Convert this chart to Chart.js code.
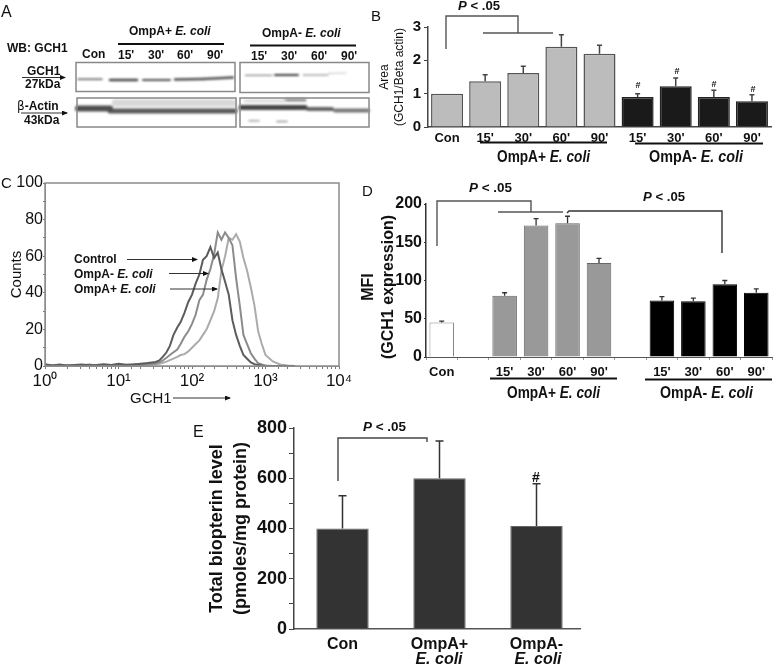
<!DOCTYPE html>
<html><head><meta charset="utf-8">
<style>
html,body{margin:0;padding:0;background:#fff;width:776px;height:666px;overflow:hidden}
canvas{position:absolute;display:block}
svg{position:absolute;left:0;top:0;z-index:5}
svg text{font-family:"Liberation Sans",Arial,sans-serif;fill:#111}
.b{font-weight:700}.i{font-style:italic}
.p{font-weight:700;font-size:12.5px}
.big{font-weight:700;font-size:17px}
.a{font-weight:700;font-size:12px}
.br{fill:none;stroke:#555;stroke-width:1.4}
.ul{stroke:#111;stroke-width:2.2}
.fr{fill:none;stroke:#888;stroke-width:1.5}
.ar{stroke:#333;stroke-width:1;marker-end:url(#ah)}
</style>
<script src="https://cdn.jsdelivr.net/npm/chart.js@4"></script>
</head><body>
<canvas id="blot"></canvas>
<canvas id="chartB"></canvas>
<canvas id="chartC"></canvas>
<canvas id="chartD"></canvas>
<canvas id="chartE"></canvas>
<svg width="776" height="666" viewBox="0 0 776 666">
<defs><marker id="ah" markerWidth="6" markerHeight="5" refX="5" refY="2.5" orient="auto" markerUnits="userSpaceOnUse"><path d="M0 0L6 2.5L0 5z" fill="#111"/></marker></defs>

<!-- panel letters -->
<text x="1" y="17" font-size="16">A</text>
<text x="371" y="21" font-size="15">B</text>
<text x="1" y="188" font-size="15">C</text>
<text x="362" y="196" font-size="15">D</text>
<text x="193" y="437" font-size="16">E</text>

<!-- A -->
<text class="a" x="7" y="52">WB: GCH1</text>
<text class="a" x="129" y="35">OmpA+ <tspan class="i">E. coli</tspan></text>
<text class="a" x="262" y="37">OmpA- <tspan class="i">E. coli</tspan></text>
<line class="ul" x1="118" y1="44" x2="224" y2="44"/>
<line class="ul" x1="250" y1="45.5" x2="356" y2="45.5"/>
<text class="a" x="82" y="58">Con</text>
<text class="a" x="118" y="59">15'</text><text class="a" x="148" y="59">30'</text><text class="a" x="177" y="59">60'</text><text class="a" x="207" y="59">90'</text>
<text class="a" x="251" y="60">15'</text><text class="a" x="281" y="60">30'</text><text class="a" x="311" y="60">60'</text><text class="a" x="341" y="60">90'</text>
<rect class="fr" x="76" y="62.5" width="159" height="29"/>
<rect class="fr" x="240" y="62.5" width="129" height="30"/>
<rect class="fr" x="77" y="98" width="159" height="29"/>
<rect class="fr" x="240" y="98" width="129" height="29"/>
<text class="a" x="27" y="75">GCH1</text>
<line class="ar" x1="22" y1="77.5" x2="65" y2="77.5"/>
<text class="a" x="25" y="88">27kDa</text>
<text class="a" x="17" y="110"><tspan font-family="DejaVu Sans" font-weight="400">β</tspan>-Actin</text>
<line class="ar" x1="21" y1="113" x2="67" y2="113"/>
<text class="a" x="24" y="124">43kDa</text>

<!-- B -->
<text class="p" x="458" y="10" textLength="42" lengthAdjust="spacingAndGlyphs"><tspan class="i">P</tspan> &lt; .05</text>
<polyline class="br" points="446,49 446,16 518,16 518,33"/>
<line class="br" x1="483" y1="33" x2="553" y2="33"/>
<text class="b" font-size="9" text-anchor="middle" x="638" y="88">#</text>
<text class="b" font-size="9" text-anchor="middle" x="677" y="74">#</text>
<text class="b" font-size="9" text-anchor="middle" x="714" y="87">#</text>
<text class="b" font-size="9" text-anchor="middle" x="753" y="92">#</text>
<line class="ul" x1="480" y1="142.5" x2="607" y2="142.5"/>
<line class="ul" x1="635" y1="143.5" x2="763" y2="143.5"/>
<text class="big" x="497" y="162" textLength="93" lengthAdjust="spacingAndGlyphs">OmpA+ <tspan class="i">E. coli</tspan></text>
<text class="big" x="649" y="162" textLength="94" lengthAdjust="spacingAndGlyphs">OmpA- <tspan class="i">E. coli</tspan></text>

<!-- C -->
<text class="a" x="74" y="263">Control</text>
<text class="a" x="74" y="278">OmpA- <tspan class="i">E. coli</tspan></text>
<text class="a" x="74" y="293">OmpA+ <tspan class="i">E. coli</tspan></text>
<line class="ar" x1="127" y1="259.5" x2="197" y2="259.5"/>
<line class="ar" x1="169" y1="273.5" x2="208" y2="273.5"/>
<line class="ar" x1="170" y1="289" x2="217" y2="289"/>
<text x="130" y="403" font-size="15">GCH1</text>
<line class="ar" x1="173" y1="398" x2="230" y2="398"/>

<!-- D -->
<text class="b" font-size="16" text-anchor="middle" dominant-baseline="central" transform="translate(367,287) rotate(-90)">MFI</text>
<text class="b" font-size="16" text-anchor="middle" dominant-baseline="central" transform="translate(387,287) rotate(-90)">(GCH1 expression)</text>
<text class="p" x="469" y="192" textLength="43" lengthAdjust="spacingAndGlyphs"><tspan class="i">P</tspan> &lt; .05</text>
<text class="p" x="643" y="201" textLength="42" lengthAdjust="spacingAndGlyphs"><tspan class="i">P</tspan> &lt; .05</text>
<polyline class="br" points="437,246 437,201 531,201 531,212"/>
<line class="br" x1="498" y1="212" x2="563" y2="212"/>
<polyline class="br" style="stroke:#333" points="567,213 569,211 722,211 722,253"/>
<line class="ul" x1="490" y1="378.5" x2="617" y2="378.5"/>
<line class="ul" x1="645" y1="379.5" x2="772" y2="379.5"/>
<text class="big" x="507" y="398" textLength="93" lengthAdjust="spacingAndGlyphs">OmpA+ <tspan class="i">E. coli</tspan></text>
<text class="big" x="660" y="398" textLength="93" lengthAdjust="spacingAndGlyphs">OmpA- <tspan class="i">E. coli</tspan></text>

<!-- E -->
<text class="p" x="363" y="431" textLength="43" lengthAdjust="spacingAndGlyphs"><tspan class="i">P</tspan> &lt; .05</text>
<polyline class="br" style="stroke:#444" points="338,481 338,438 427,438 427,442"/>
<text class="b" font-size="14" text-anchor="middle" x="536" y="482">#</text>
<text class="b i" font-size="16" text-anchor="middle" x="439" y="664">E. coli</text>
<text class="b i" font-size="16" text-anchor="middle" x="538" y="664">E. coli</text>
<rect x="581" y="626" width="8" height="6" fill="#fff"/>
</svg>

<script>
// ---------- Panel A: densitometry bands read from the blot ----------
const bandStart = [78,110,143,175,203, 245,275,303,328, 115,78,110, 245,285,241,308,335, 249,277];
const bandEnd   = [102,137,170,203,233, 272,298,328,346, 233,110,235, 285,305,305,332,368, 259,287];
const bandPosA  = [79.3,80,80,79.5,79, 75.3,75,75,73.5, 103,108.5,111, 101,100,107.5,109,110.5, 120.7,121.5];
const bandPosB  = [79.3,80,80,79,77.5, 75.3,75,75,73, 103,108.5,111, 101,100,107.5,109,110.5, 120.7,121.5];
const bandThick = [1.5,2.5,2,2.5,2.5, 1,2,1,0.8, 7,6,5, 3,3,5,4,4, 1.5,1.5];
const bandDensity = [.75,.85,.8,.8,.8, .7,.9,.6,.3, .1,.8,.75, .08,.5,.85,.7,.6, .4,.45];

// ---------- Panel B ----------
const catsB = ['Con',"15'","30'","60'","90'","15'","30'","60'","90'"];
const valuesB = [1.0,1.37,1.62,2.41,2.2,0.9,1.22,0.9,0.77];
const errTopB = [1.0,1.57,1.82,2.77,2.45,1.0,1.47,1.1,0.97];
const ticksB = [0,1,2,3];

// ---------- Panel C: flow cytometry histograms ----------
const channels = [1,1.26,1.58,2,2.5,3.16,4,5,6.3,8,10,12.6,16,20,25,32,36,40,45,50,56,63,70,79,89,100,112,126,141,158,178,200,224,251,282,316,355,398,447,501,562,631,708,794,891,1000,1259,1585,2000,2500];
const countsControl = [1,0.3,0.8,0.2,0.5,0.8,0.4,0.6,1,0.6,1.2,0.7,0.8,1.2,1.6,2.2,3,5,7.5,11,17,21,24,29,35,39,45,50,58,60,65,59,62,53,46,39,25,17,11,6,4,2,1,0.6,0.2,0,0,0,0,0];
const countsOmpAminus = [0.6,0.2,0.3,0.5,0.2,0.4,0.8,0.3,0.6,0.4,0.7,0.5,0.9,0.6,1,1.4,2,3,4.5,6,7.5,9,12,16,19,23,28,36,39,47,53,61,73,69,73,70,66,48,33,17,12,7,4,1.5,0.8,0.3,0,0,0,0];
const countsOmpAplus = [0.3,0.5,0.2,0.3,0.6,0.2,0.3,0.5,0.3,0.5,0.4,0.6,0.4,0.5,0.7,1,1.2,1.8,2.4,3.2,4,5,6,6.5,8,10,12,14,17,20,25,30,37,52,60,70,69,72,68,59,52,43,33,19,12,6,2.5,0.8,0.3,0];
const decadeLabels = {1:'10\u2070',10:'10\u00B9',100:'10\u00B2',1000:'10\u00B3',10000:'10\u2074'};

// ---------- Panel D ----------
const catsD = ['Con','',"15'","30'","60'","90'",'',"15'","30'","60'","90'"];
const valuesD = [45,null,80,172,175,123,null,74,73,95,84];
const errTopD = [47,null,84,181,184,129,null,79,77,100,89];

// ---------- Panel E ----------
const catsE = ['Con','OmpA+','OmpA-'];
const valuesE = [400,600,410];
const errTopE = [530,748,578];

// ---------- helpers ----------
const FONT = '"Liberation Sans", Arial, sans-serif';
Chart.defaults.font.family = FONT;
Chart.defaults.color = '#111';
Chart.defaults.animation = false;
Chart.defaults.responsive = false;
Chart.defaults.maintainAspectRatio = false;
Chart.defaults.devicePixelRatio = 1;

function place(id, r, p, yw, xh){
  const c = document.getElementById(id);
  c.width = r.w; c.height = r.h;
  c.style.left = r.x+'px'; c.style.top = r.y+'px';
  c.style.width = r.w+'px'; c.style.height = r.h+'px';
  return {
    canvas:c,
    padding:{left:p.l-r.x-yw, top:p.t-r.y, right:r.x+r.w-p.r, bottom:r.y+r.h-p.b-xh},
    fitY:s=>{s.width=yw}, fitX:s=>{s.height=xh}
  };
}
function errorBars(tops, color, lw, cap){
  return {id:'err', afterDatasetsDraw(chart){
    const y = chart.scales.y, ctx = chart.ctx;
    const meta = chart.getDatasetMeta(0);
    ctx.save(); ctx.strokeStyle=color; ctx.lineWidth=lw;
    tops.forEach((t,i)=>{
      const v = chart.data.datasets[0].data[i];
      if(t==null||v==null||t<=v) return;
      const px = meta.data[i].x, py0=y.getPixelForValue(v), py1=y.getPixelForValue(t);
      ctx.beginPath(); ctx.moveTo(px,py0); ctx.lineTo(px,py1);
      ctx.moveTo(px-cap,py1); ctx.lineTo(px+cap,py1); ctx.stroke();
    });
    ctx.restore();
  }};
}

// ---------- Panel A chart ----------
(function(){
  const L = place('blot',{x:70,y:60,w:300,h:70},{l:70,t:60,r:370,b:130},0,0);
  L.canvas.style.filter='blur(0.9px)';
  const ds = bandStart.map((s,i)=>{
    const g = Math.round(235-bandDensity[i]*195);
    return {data:[{x:s,y:bandPosA[i]},{x:bandEnd[i],y:bandPosB[i]}],showLine:true,pointRadius:0,
      borderWidth:bandThick[i],borderColor:`rgb(${g},${g},${g})`,borderCapStyle:'round'};
  });
  new Chart(L.canvas,{type:'scatter',data:{datasets:ds},options:{
    plugins:{legend:{display:false},tooltip:{enabled:false}},
    layout:{padding:0},
    scales:{x:{type:'linear',display:false,min:70,max:370},y:{type:'linear',display:false,min:60,max:130,reverse:true}}
  }});
})();

// ---------- Panel B chart ----------
(function(){
  const L = place('chartB',{x:360,y:0,w:416,h:170},{l:428,t:27,r:771,b:127},51,20);
  const fill = catsB.map((c,i)=>i<5?'#bcbcbc':'#1a1a1a');
  new Chart(L.canvas,{type:'bar',data:{labels:catsB,datasets:[{data:valuesB,backgroundColor:fill,
      borderColor:catsB.map((c,i)=>i<5?'#555':'#222'),borderWidth:1.5,barPercentage:.84,categoryPercentage:1}]},
    plugins:[errorBars(errTopB,'#444',1.5,2.5)],
    options:{layout:{padding:L.padding},plugins:{legend:{display:false},tooltip:{enabled:false}},
    scales:{
      x:{afterFit:L.fitX,grid:{display:false,drawTicks:false},border:{color:'#444',width:1.5},
         ticks:{autoSkip:false,maxRotation:0,padding:4,font:{size:13,weight:'bold'},color:'#111'}},
      y:{afterFit:L.fitY,min:0,max:3,afterBuildTicks:a=>{a.ticks=ticksB.map(v=>({value:v}))},
         grid:{drawOnChartArea:false,tickLength:4,color:'#444'},border:{color:'#444',width:1.5},
         ticks:{padding:3,font:{size:15,weight:'bold'},color:'#111'},
         title:{display:true,text:['Area','(GCH1/Beta actin)'],padding:0,color:'#111',font:{size:12,lineHeight:'15px'}}}
    }}});
})();

// ---------- Panel C chart ----------
(function(){
  const L = place('chartC',{x:0,y:165,w:365,h:245},{l:45,t:183,r:339,b:366},37,30);
  const mk=(d,c)=>({data:d.map((v,i)=>({x:channels[i],y:v})),showLine:true,pointRadius:0,borderColor:c,borderWidth:2,tension:0});
  const box={id:'box',afterDatasetsDraw(ch){const a=ch.chartArea,c=ch.ctx;c.save();c.strokeStyle='#8c8c8c';c.lineWidth=1.5;
     c.strokeRect(a.left,a.top,a.right-a.left,a.bottom-a.top);c.restore();}};
  new Chart(L.canvas,{type:'scatter',data:{datasets:[mk(countsControl,'#5c5c5c'),mk(countsOmpAminus,'#8b8b8b'),mk(countsOmpAplus,'#ababab')]},
    plugins:[box],
    options:{layout:{padding:L.padding},plugins:{legend:{display:false},tooltip:{enabled:false}},
    scales:{
      x:{type:'logarithmic',min:1,max:10000,afterFit:L.fitX,grid:{drawOnChartArea:false,tickLength:3,color:'#777'},border:{color:'#8c8c8c'},
         ticks:{autoSkip:false,maxRotation:0,padding:2,font:{size:17},color:'#111',callback:v=>decadeLabels[v]||''}},
      y:{type:'linear',min:0,max:100,afterFit:L.fitY,grid:{drawOnChartArea:false,tickLength:2,color:'#777'},border:{color:'#8c8c8c'},
         ticks:{stepSize:10,autoSkip:false,padding:0,font:{size:16},color:'#111',callback:v=>v%20===0?v:''},
         title:{display:true,text:'Counts',padding:0,color:'#111',font:{size:15,lineHeight:'18px'}}}
    }}});
})();

// ---------- Panel D chart ----------
(function(){
  const L = place('chartD',{x:362,y:190,w:414,h:195},{l:426,t:204,r:772,b:357},34,25);
  const fill = catsD.map((c,i)=>i===0?'#ffffff':i<6?'#999999':'#000000');
  const edge = catsD.map((c,i)=>i===0?'#888888':i<6?'#666666':'#000000');
  new Chart(L.canvas,{type:'bar',data:{labels:catsD,datasets:[{data:valuesD,backgroundColor:fill,borderColor:edge,borderWidth:1,barPercentage:.78,categoryPercentage:1}]},
    plugins:[errorBars(errTopD,'#333',1.3,2.5)],
    options:{layout:{padding:L.padding},plugins:{legend:{display:false},tooltip:{enabled:false}},
    scales:{
      x:{afterFit:L.fitX,grid:{drawOnChartArea:false,tickLength:3,color:'#999'},border:{color:'#555'},
         ticks:{autoSkip:false,maxRotation:0,padding:5,font:{size:13,weight:'bold'},color:'#111'}},
      y:{min:0,max:200,afterFit:L.fitY,grid:{drawOnChartArea:false,tickLength:2,color:'#333'},border:{color:'#333',width:1.5},
         ticks:{stepSize:50,padding:2,font:{size:16,weight:'bold'},color:'#111'}}
    }}});
})();

// ---------- Panel E chart ----------
(function(){
  const L = place('chartE',{x:195,y:415,w:400,h:251},{l:294,t:428,r:585,b:629},89,30);
  new Chart(L.canvas,{type:'bar',data:{labels:catsE,datasets:[{data:valuesE,backgroundColor:'#333333',borderColor:'#666666',borderWidth:1,barPercentage:.54,categoryPercentage:1}]},
    plugins:[errorBars(errTopE,'#333',1.5,4)],
    options:{layout:{padding:L.padding},plugins:{legend:{display:false},tooltip:{enabled:false}},
    scales:{
      x:{afterFit:L.fitX,grid:{display:false,drawTicks:false},border:{color:'#555',width:1.5},
         ticks:{autoSkip:false,maxRotation:0,padding:6,font:{size:16,weight:'bold'},color:'#111'}},
      y:{min:0,max:800,afterFit:L.fitY,grid:{drawOnChartArea:false,tickLength:5,color:'#444'},border:{color:'#444',width:1.5},
         ticks:{stepSize:100,autoSkip:false,padding:2,font:{size:18,weight:'bold'},color:'#111',callback:v=>v%200===0?v:''},
         title:{display:true,text:['Total biopterin level','(pmoles/mg protein)'],padding:0,color:'#111',font:{size:18,weight:'bold',lineHeight:'24px'}}}
    }}});
})();
</script>
</body></html>
